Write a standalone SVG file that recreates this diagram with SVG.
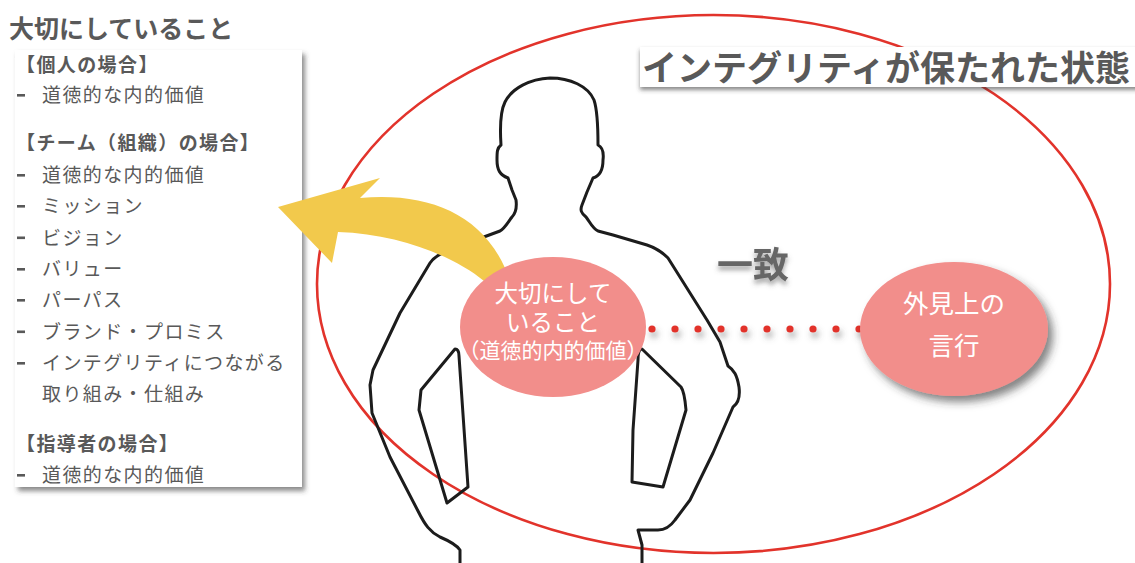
<svg xmlns="http://www.w3.org/2000/svg" width="1135" height="563" viewBox="0 0 1135 563">
  <defs>
    <filter id="boxShadow" x="-10%" y="-10%" width="125%" height="125%">
      <feDropShadow dx="3" dy="4" stdDeviation="2.5" flood-color="#3a3a3a" flood-opacity="0.6"/>
    </filter>
    <filter id="barShadow" x="-5%" y="-30%" width="110%" height="180%">
      <feDropShadow dx="0" dy="3" stdDeviation="2" flood-color="#3a3a3a" flood-opacity="0.6"/>
    </filter>
    <filter id="ovalShadow" x="-20%" y="-20%" width="145%" height="150%">
      <feDropShadow dx="5" dy="6" stdDeviation="4" flood-color="#333" flood-opacity="0.6"/>
    </filter>
    <filter id="dotShadow" filterUnits="userSpaceOnUse" x="630" y="310" width="250" height="40">
      <feDropShadow dx="2" dy="5" stdDeviation="3" flood-color="#555" flood-opacity="0.55"/>
    </filter>
    <filter id="textShadow" x="-20%" y="-30%" width="140%" height="170%">
      <feDropShadow dx="0" dy="4" stdDeviation="2.5" flood-color="#555" flood-opacity="0.55"/>
    </filter>
  </defs>
  <style>
    .jp { font-family: "Noto Sans CJK JP", "Noto Sans CJK SC", sans-serif; }
    .gray { fill: #595959; }
    .list { font-size: 19px; letter-spacing: 1.4px; }
    .dash { fill: #595959; }
    .bold { font-weight: bold; }
    .white { fill: #ffffff; }
    .oval { fill: #f28e8b; }
    .dot { fill: #e2332b; }
    .body { fill: none; stroke: #1c1c1c; stroke-width: 3; stroke-linejoin: round; stroke-linecap: round; }
  </style>

  <rect width="1135" height="563" fill="#ffffff"/>

  <!-- large boundary ellipse -->
  <g id="boundary">
    <ellipse cx="713.5" cy="284" rx="396.5" ry="269" fill="none" stroke="#e2332b" stroke-width="2.6"/>
  </g>

  <!-- person silhouette -->
  <g id="person">
    <path class="body" d="M 460 563 L 460 550 C 456 544 447 540 440 537 C 430 532 425 525 418 511 L 390 457 L 372 413 L 370 385 L 373 370 L 400 313 L 430 263 C 434 257 440 254 445 252 L 473 241 L 500 231 C 505 228 508 222 512 217 C 516 213 517 208 516 200 L 512 190 L 508 178 C 500 175 497 170 497 160 C 497 152 497 148 501 145 C 500 130 500 112 505 102 C 512 88 530 79 550 78 C 570 78 588 86 594 100 C 598 112 598 130 598 145 C 602 147 604 152 603 160 C 603 170 600 176 593 178 L 587 192 L 582 205 C 580 210 581 213 586 217 C 590 222 592 228 598 231 L 613 235 L 647 245 C 656 248 662 252 668 258 L 690 293 L 707 320 L 720 342 L 728 366 C 734 370 737 375 739 387 C 740 395 739 403 733 407 L 713 453 L 690 500 L 675 520 C 670 527 665 530 658 530 L 638 530 L 642 545 L 642 563"/>
    <path class="body" d="M 455 349 C 458 349 459 352 459 356 L 468 487 L 447 503 L 419 410 L 421 390 Z"/>
    <path class="body" d="M 642 349 L 681 387 C 684 391 685 398 686 410 L 663 487 L 632 482 L 633 430 L 638 360 C 638 353 639 349 642 349 Z"/>
  </g>

  <!-- list of values -->
  <g id="values-list">
    <text class="jp gray bold" x="9" y="37.5" font-size="25">大切にしていること</text>
    <rect x="15" y="50" width="287" height="437" fill="#ffffff" filter="url(#boxShadow)"/>
    <text class="jp gray bold list" x="16" y="72">【個人の場合】</text>
    <rect class="dash" x="17" y="94" width="8" height="2.6"/>
    <text class="jp gray list" x="42" y="102">道徳的な内的価値</text>
    <text class="jp gray bold list" x="16" y="150">【チーム（組織）の場合】</text>
    <rect class="dash" x="17" y="174" width="8" height="2.6"/>
    <text class="jp gray list" x="42" y="182">道徳的な内的価値</text>
    <rect class="dash" x="17" y="205" width="8" height="2.6"/>
    <text class="jp gray list" x="42" y="213">ミッション</text>
    <rect class="dash" x="17" y="236.5" width="8" height="2.6"/>
    <text class="jp gray list" x="42" y="244.5">ビジョン</text>
    <rect class="dash" x="17" y="268" width="8" height="2.6"/>
    <text class="jp gray list" x="42" y="276">バリュー</text>
    <rect class="dash" x="17" y="299" width="8" height="2.6"/>
    <text class="jp gray list" x="42" y="307">パーパス</text>
    <rect class="dash" x="17" y="330.5" width="8" height="2.6"/>
    <text class="jp gray list" x="42" y="338.5">ブランド・プロミス</text>
    <rect class="dash" x="17" y="362" width="8" height="2.6"/>
    <text class="jp gray list" x="42" y="370">インテグリティにつながる</text>
    <text class="jp gray list" x="42" y="401">取り組み・仕組み</text>
    <text class="jp gray bold list" x="16" y="451">【指導者の場合】</text>
    <rect class="dash" x="17" y="474" width="8" height="2.6"/>
    <text class="jp gray list" x="42" y="482">道徳的な内的価値</text>
  </g>

  <!-- heading bar -->
  <g id="state-title">
    <rect x="640" y="47" width="500" height="40" fill="#ffffff" filter="url(#barShadow)"/>
    <text class="jp gray bold" x="642" y="81" font-size="35">インテグリティが保たれた状態</text>
  </g>

  <!-- connectors -->
  <g id="connectors">
    <path d="M 278 207 L 380 178 L 360 198 C 425 192 480 212 505 268 L 484 281 C 455 257 400 234 338 232 L 332 263 Z" fill="#f2c94c"/>
    <g filter="url(#dotShadow)">
      <circle class="dot" cx="652" cy="329" r="3.6"/>
      <circle class="dot" cx="675" cy="329" r="3.6"/>
      <circle class="dot" cx="698" cy="329" r="3.6"/>
      <circle class="dot" cx="721" cy="329" r="3.6"/>
      <circle class="dot" cx="744" cy="329" r="3.6"/>
      <circle class="dot" cx="767" cy="329" r="3.6"/>
      <circle class="dot" cx="790" cy="329" r="3.6"/>
      <circle class="dot" cx="813" cy="329" r="3.6"/>
      <circle class="dot" cx="836" cy="329" r="3.6"/>
      <circle class="dot" cx="859" cy="329" r="3.6"/>
    </g>
  </g>

  <!-- inner values node -->
  <g id="inner-values">
    <ellipse class="oval" cx="553" cy="327" rx="93" ry="70"/>
    <text class="jp white" x="553" y="302" font-size="23.5" text-anchor="middle">大切にして</text>
    <text class="jp white" x="553" y="331" font-size="23.5" text-anchor="middle">いること</text>
    <text class="jp white" x="553" y="358" font-size="21" text-anchor="middle">（道徳的内的価値）</text>
  </g>

  <!-- outward conduct node -->
  <g id="outward-conduct">
    <ellipse class="oval" cx="954" cy="329" rx="94" ry="67" filter="url(#ovalShadow)"/>
    <text class="jp white" x="954" y="312.5" font-size="25.5" text-anchor="middle">外見上の</text>
    <text class="jp white" x="954" y="354.5" font-size="25.5" text-anchor="middle">言行</text>
  </g>

  <!-- match label -->
  <g id="match-label">
    <text class="jp bold" x="753" y="278" font-size="36" text-anchor="middle" fill="#666666" filter="url(#textShadow)">一致</text>
  </g>
</svg>
